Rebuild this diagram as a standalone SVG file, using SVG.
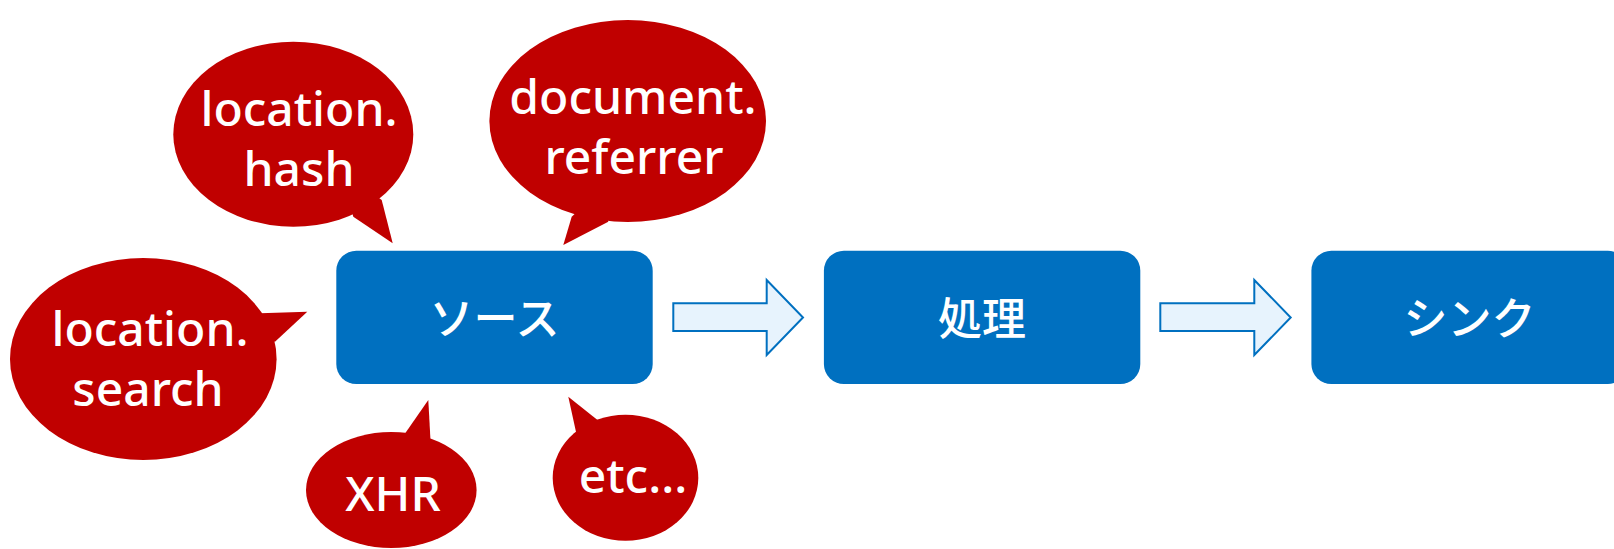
<svg xmlns="http://www.w3.org/2000/svg" width="1614" height="549" viewBox="0 0 1614 549">
  <style>
    .box { fill: #0070C0; }
    .boxtext { fill: #FFFFFF; font-family: "Noto Sans CJK JP", "Noto Sans", sans-serif; font-size: 44px; font-weight: 500; text-anchor: middle; dominant-baseline: central; }
    .bubble { fill: #C00000; }
    .btext { fill: #FFFFFF; font-family: "Noto Sans", "Open Sans", sans-serif; font-size: 48px; font-weight: 500; text-anchor: middle; }
    .arrow { fill: #E7F3FD; stroke: #0070C0; stroke-width: 2; stroke-linejoin: miter; }
  </style>
  <rect width="1614" height="549" fill="#FFFFFF"/>

  <g id="bubble-location-hash">
    <ellipse class="bubble" cx="293.3" cy="134.2" rx="120" ry="92.5"/>
    <polygon class="bubble" points="353.3,216.7 392.7,243.3 381.7,200 340,170"/>
    <text class="btext"><tspan x="299" y="126">location.</tspan><tspan x="299" y="186">hash</tspan></text>
  </g>

  <g id="bubble-document-referrer">
    <ellipse class="bubble" cx="627.7" cy="121" rx="138.3" ry="101"/>
    <polygon class="bubble" points="571.7,216.7 563.3,245 608.3,221.7 600,190"/>
    <text class="btext"><tspan x="633" y="114">document.</tspan><tspan x="634" y="174">referrer</tspan></text>
  </g>

  <g id="bubble-location-search">
    <ellipse class="bubble" cx="143.3" cy="359" rx="133.3" ry="101"/>
    <polygon class="bubble" points="260,313.3 307.3,311.7 275,341.7 240,330"/>
    <text class="btext"><tspan x="150" y="346">location.</tspan><tspan x="148" y="406">search</tspan></text>
  </g>

  <g id="bubble-xhr">
    <ellipse class="bubble" cx="391.3" cy="490" rx="85.3" ry="58"/>
    <polygon class="bubble" points="403.3,436 428.3,400 430.7,444 415,460"/>
    <text class="btext" x="393" y="510.7">XHR</text>
  </g>

  <g id="bubble-etc">
    <ellipse class="bubble" cx="625.5" cy="477.8" rx="72.8" ry="63"/>
    <polygon class="bubble" points="576.7,435 568.3,396.7 600,422 600,450"/>
    <text class="btext" x="633" y="493.3">etc...</text>
  </g>

  <g id="node-source">
    <rect class="box" x="336.3" y="250.7" width="316.4" height="133.3" rx="20" ry="20"/>
    <text class="boxtext" x="494.5" y="315.5">ソース</text>
  </g>

  <g id="node-process">
    <rect class="box" x="823.9" y="250.7" width="316.4" height="133.3" rx="20" ry="20"/>
    <text class="boxtext" x="982" y="315.5">処理</text>
  </g>

  <g id="node-sink">
    <rect class="box" x="1311.4" y="250.7" width="316.4" height="133.3" rx="20" ry="20"/>
    <text class="boxtext" x="1469.5" y="315.5">シンク</text>
  </g>

  <g id="connectors">
    <polygon class="arrow" points="673.3,303.3 766.7,303.3 766.7,280 803,317.5 766.7,355 766.7,331 673.3,331"/>
    <polygon class="arrow" points="1160.3,303.3 1254.3,303.3 1254.3,280 1290.7,317.5 1254.3,355 1254.3,331 1160.3,331"/>
  </g>
</svg>
